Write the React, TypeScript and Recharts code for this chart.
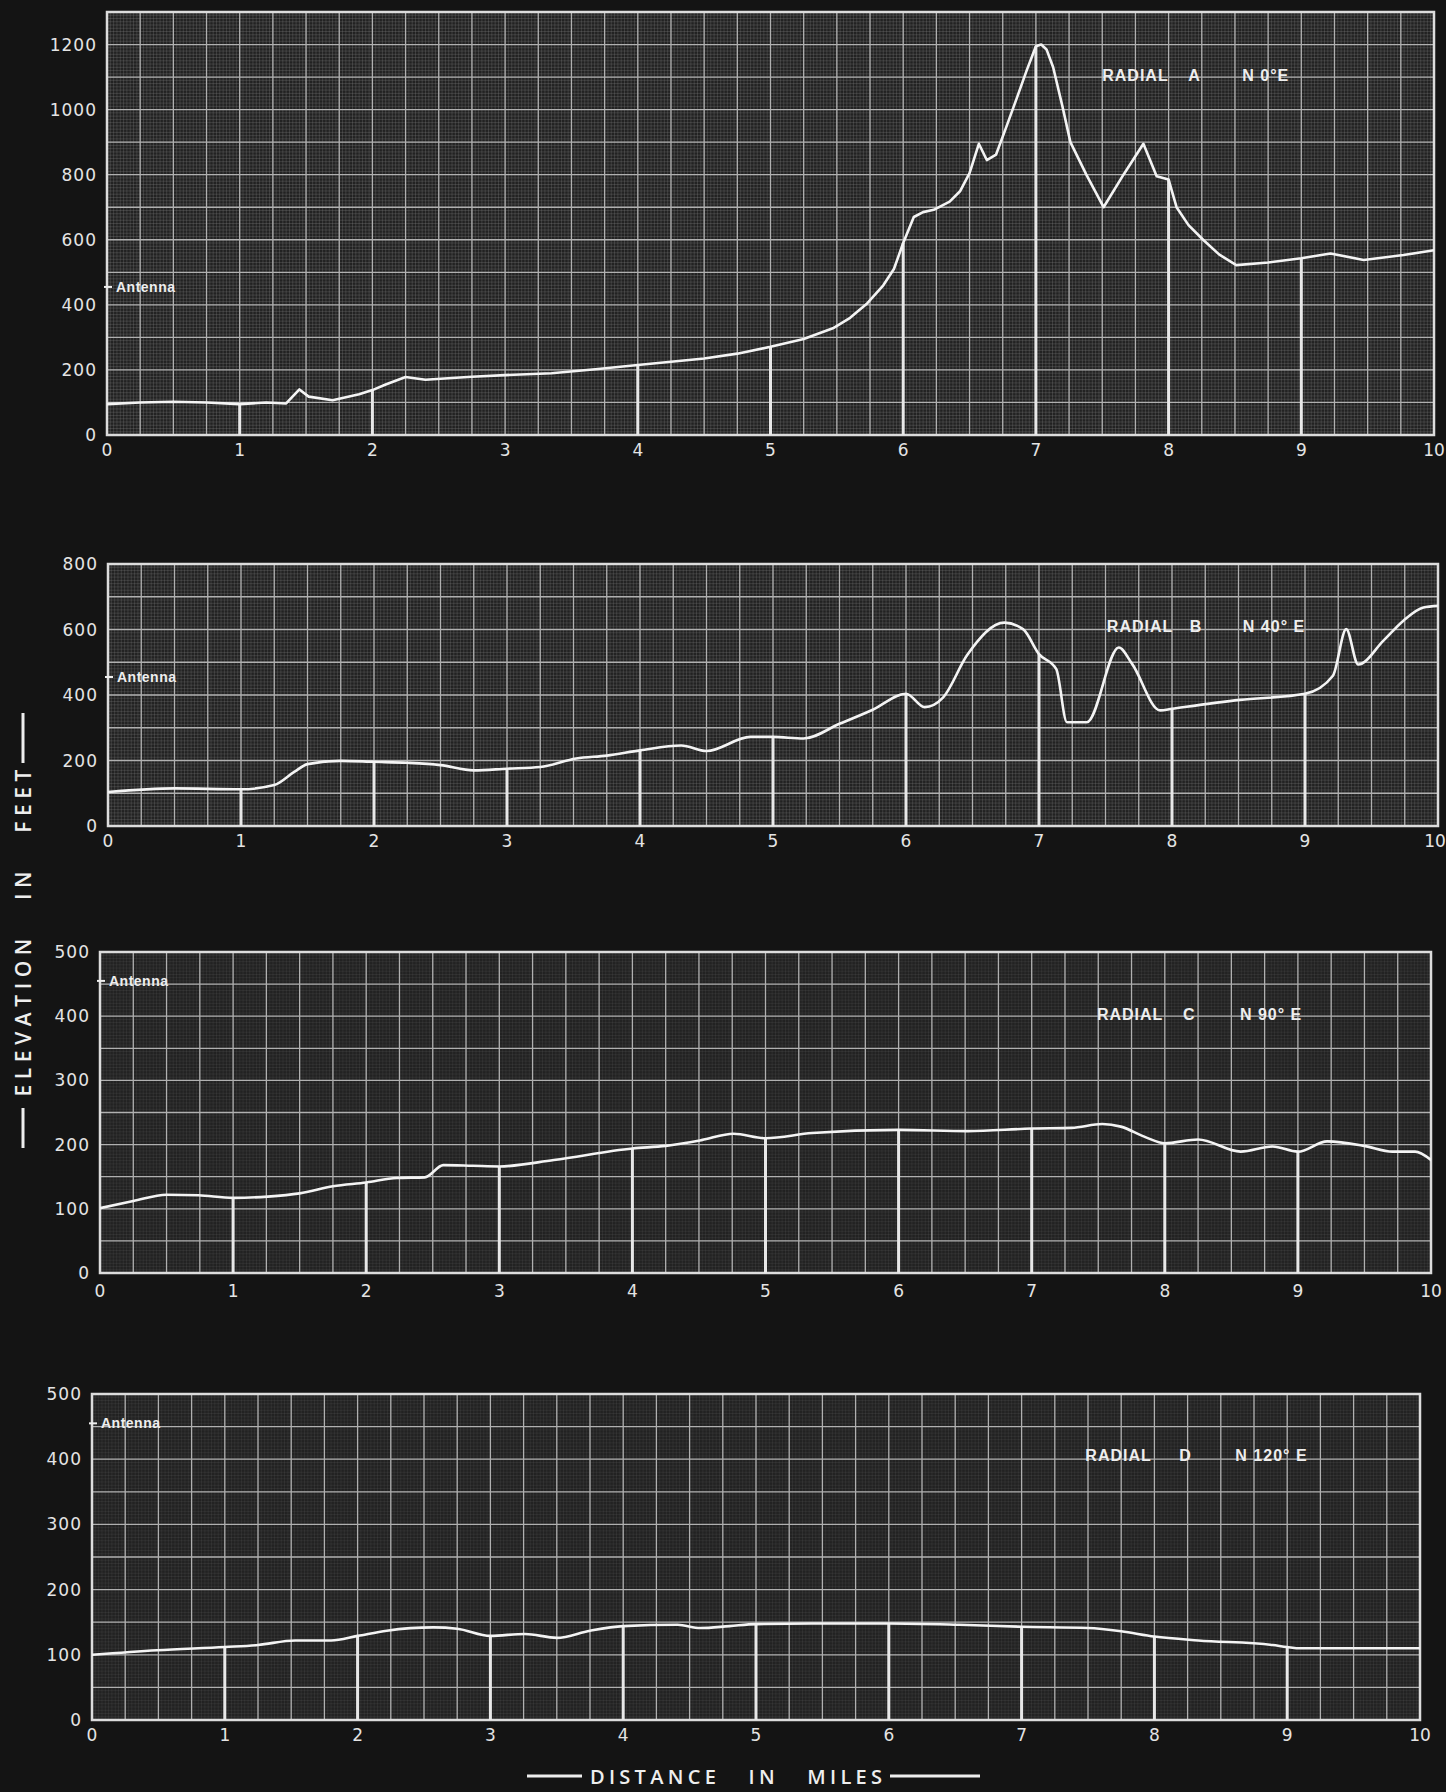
import React from "react";
import {
  LineChart,
  Line,
  XAxis,
  YAxis,
  CartesianGrid,
  ReferenceArea,
  ReferenceDot,
} from "recharts";

// ---------- DATA ----------
const MILE_TICKS = [0, 1, 2, 3, 4, 5, 6, 7, 8, 9, 10];
const A_Y_TICKS = [0, 200, 400, 600, 800, 1000, 1200];
const B_Y_TICKS = [0, 200, 400, 600, 800];
const CD_Y_TICKS = [0, 100, 200, 300, 400, 500];

const ANTENNA_FT = 455;

// [distance in miles, elevation in feet]
const radialA: [number, number][] = [
  [0, 95], [0.25, 100], [0.5, 102], [0.75, 100], [1, 95], [1.2, 100], [1.35, 97],
  [1.45, 140], [1.52, 118], [1.7, 107], [1.9, 125], [2, 138], [2.1, 155], [2.25, 178],
  [2.4, 170], [2.6, 175], [2.75, 179], [3, 184], [3.35, 190], [3.7, 203], [4, 215],
  [4.5, 235], [4.75, 250], [5, 271], [5.25, 295], [5.47, 328], [5.6, 360], [5.73, 405],
  [5.85, 460], [5.93, 510], [6, 590], [6.08, 670], [6.15, 685], [6.23, 692], [6.35, 717],
  [6.43, 750], [6.5, 805], [6.57, 895], [6.63, 845], [6.7, 862], [6.78, 950], [6.86, 1040],
  [6.93, 1120], [7, 1195], [7.04, 1200], [7.08, 1185], [7.13, 1130], [7.2, 1010],
  [7.26, 900], [7.38, 800], [7.51, 700], [7.66, 800], [7.81, 895], [7.91, 795], [8, 785],
  [8.06, 700], [8.15, 645], [8.26, 600], [8.38, 555], [8.51, 522], [8.75, 530], [9, 543],
  [9.22, 558], [9.47, 538], [9.77, 553], [10, 568],
];

const radialB: [number, number][] = [
  [0, 104], [0.5, 115], [1, 112], [1.25, 125], [1.4, 165], [1.5, 189], [1.75, 199],
  [2, 196], [2.25, 193], [2.5, 186], [2.75, 170], [3, 175], [3.25, 180], [3.52, 206],
  [3.75, 215], [4, 231], [4.31, 246], [4.5, 229], [4.83, 272], [5, 272], [5.23, 267],
  [5.5, 312], [5.75, 355], [6, 404], [6.14, 363], [6.28, 393], [6.46, 522], [6.74, 621],
  [6.88, 601], [7, 525], [7.13, 479], [7.21, 317], [7.36, 317], [7.6, 545], [7.7, 495],
  [7.91, 353], [8, 358], [8.51, 385], [9, 404], [9.21, 459], [9.31, 601], [9.4, 493],
  [9.59, 566], [9.74, 627], [9.89, 667], [10, 672],
];

const radialC: [number, number][] = [
  [0, 101], [0.25, 112], [0.5, 122], [0.74, 121], [1, 117], [1.26, 119], [1.5, 124],
  [1.75, 135], [2, 141], [2.23, 148], [2.44, 149], [2.58, 168], [2.8, 167], [3, 166],
  [3.41, 176], [4, 194], [4.25, 198], [4.52, 207], [4.76, 217], [5, 210], [5.35, 218],
  [6, 223], [6.52, 221], [7, 225], [7.3, 226], [7.53, 232], [7.67, 228], [7.85, 212],
  [8, 202], [8.25, 208], [8.57, 189], [8.81, 197], [9, 189], [9.22, 205], [9.5, 198],
  [9.71, 189], [9.88, 189], [10, 176],
];

const radialD: [number, number][] = [
  [0, 100], [0.49, 107], [1, 112], [1.25, 115], [1.53, 122], [1.8, 122], [2, 129],
  [2.22, 137], [2.57, 142], [2.75, 140], [3, 129], [3.26, 132], [3.5, 126], [3.75, 137],
  [4, 144], [4.41, 146], [4.58, 141], [4.8, 144], [5, 147], [5.42, 148], [6, 148],
  [6.53, 146], [7, 143], [7.5, 141], [7.75, 136], [8, 128], [8.33, 122], [8.89, 115],
  [9, 112], [9.1, 110], [9.5, 110], [10, 110],
];

// miles at which a heavy vertical line is drawn from the base up to the profile
const A_DROPS = [1, 2, 4, 5, 6, 7, 8, 9];
const B_DROPS = [1, 2, 3, 4, 5, 6, 7, 8, 9];
const C_DROPS = [1, 2, 3, 4, 5, 6, 7, 8, 9];
const D_DROPS = [1, 2, 3, 4, 5, 6, 7, 8, 9];

// label anchors [mile, feet]
const A_LABEL: [number, number] = [7.5, 1106];
const B_LABEL: [number, number] = [7.51, 608];
const C_LABEL: [number, number] = [7.49, 402];
const D_LABEL: [number, number] = [7.48, 405];

// ---------- helpers ----------
const range = (start: number, end: number, step: number) => {
  const out: number[] = [];
  for (let v = start; v <= end + 1e-9; v += step) out.push(Math.round(v * 1000) / 1000);
  return out;
};

const toPoints = (p: [number, number][]) => p.map(([x, y]) => ({ x, y }));

const dropSegments = (p: [number, number][], miles: number[]) => {
  const out: { x: number; y: number | null }[] = [];
  miles.forEach((m) => {
    const hit = p.find((d) => d[0] === m);
    if (hit) {
      out.push({ x: m, y: 0 }, { x: m, y: hit[1] }, { x: m, y: null });
    }
  });
  return out;
};

const FONT_TICK = "DejaVu Sans, sans-serif";
const W = 1446;
const Y_AXIS_W = 70;
const X_AXIS_H = 30;

const XTick = (p: any) => {
  const label = String(p.payload.value);
  const x = Math.min(p.x, W - 11);
  return (
    <text
      x={x}
      y={p.y}
      dy="0.71em"
      textAnchor="middle"
      fill="#e4e4e4"
      fontSize={17}
      fontFamily={FONT_TICK}
    >
      {label}
    </text>
  );
};

const YTick = (p: any) => (
  <text
    x={p.x}
    y={p.y}
    textAnchor="end"
    dominantBaseline="central"
    fill="#e4e4e4"
    fontSize={17}
    letterSpacing={1}
    fontFamily={FONT_TICK}
  >
    {String(p.payload.value)}
  </text>
);

type PanelProps = {
  plotLeft: number;
  plotRight: number;
  plotTop: number;
  plotBottom: number;
  yMax: number;
  yTicks: number[];
  majorStep: number;
  fineStepY: number;
  fineOpacity: number;
  profile: [number, number][];
  curve: "linear" | "monotoneX";
  drops: number[];
  label: [number, number];
  radial: string;
  bearing: string;
  letterGap: number;
  bearingGap: number;
  xTickMargin: number;
};

function Panel(props: PanelProps) {
  const {
    plotLeft, plotRight, plotTop, plotBottom, yMax, yTicks, majorStep, fineStepY,
    fineOpacity, profile, curve, drops, label, radial, bearing, letterGap, bearingGap,
    xTickMargin,
  } = props;
  const topPad = 12;
  const bottomPad = 6;
  const height = plotBottom - plotTop + topPad + X_AXIS_H + bottomPad;
  const margin = {
    top: topPad,
    bottom: bottomPad,
    left: plotLeft - Y_AXIS_W,
    right: W - plotRight,
  };
  const profilePts = toPoints(profile);
  const dropPts = dropSegments(profile, drops);

  return (
    <div style={{ position: "absolute", left: 0, top: plotTop - topPad }}>
      <LineChart width={W} height={height} margin={margin}>
        <CartesianGrid
          fill="#222222"
          stroke="#8a8a8a"
          strokeOpacity={fineOpacity}
          strokeWidth={1}
          horizontalValues={range(0, yMax, fineStepY)}
          verticalValues={range(0, 10, 0.025)}
        />
        <CartesianGrid
          stroke="#b0b0b0"
          strokeWidth={1.3}
          horizontalValues={range(0, yMax, majorStep)}
          verticalValues={range(0, 10, 0.25)}
        />
        <XAxis
          type="number"
          dataKey="x"
          domain={[0, 10]}
          ticks={MILE_TICKS}
          axisLine={false}
          tickLine={false}
          tickSize={0}
          tickMargin={xTickMargin}
          height={X_AXIS_H}
          tick={<XTick />}
          interval={0}
          allowDataOverflow
        />
        <YAxis
          type="number"
          dataKey="y"
          domain={[0, yMax]}
          ticks={yTicks}
          axisLine={false}
          tickLine={false}
          tickSize={0}
          tickMargin={10}
          width={Y_AXIS_W}
          tick={<YTick />}
          interval={0}
          allowDataOverflow
        />
        <ReferenceArea
          x1={0}
          x2={10}
          y1={0}
          y2={yMax}
          fill="none"
          stroke="#dcdcdc"
          strokeWidth={2.5}
          ifOverflow="visible"
        />
        <Line
          data={dropPts}
          dataKey="y"
          type="linear"
          stroke="#e8e8e8"
          strokeWidth={3}
          dot={false}
          activeDot={false}
          connectNulls={false}
          isAnimationActive={false}
        />
        <Line
          data={profilePts}
          dataKey="y"
          type={curve}
          stroke="#f4f4f4"
          strokeWidth={2.6}
          strokeLinejoin="round"
          strokeLinecap="round"
          dot={false}
          activeDot={false}
          isAnimationActive={false}
        />
        <ReferenceDot
          x={0}
          y={ANTENNA_FT}
          r={1}
          ifOverflow="visible"
          shape={(p: any) => (
            <g>
              <line x1={p.cx - 3} x2={p.cx + 5} y1={p.cy} y2={p.cy} stroke="#eeeeee" strokeWidth={2} />
              <text
                x={p.cx + 9}
                y={p.cy}
                dominantBaseline="central"
                fill="#eeeeee"
                fontSize={14}
                fontWeight={700}
                fontFamily="Liberation Sans, Arial, sans-serif"
                letterSpacing={0.5}
              >
                Antenna
              </text>
            </g>
          )}
        />
        <ReferenceDot
          x={label[0]}
          y={label[1]}
          r={1}
          ifOverflow="visible"
          shape={(p: any) => (
            <g
              fill="#eeeeee"
              fontSize={16}
              fontWeight={700}
              fontFamily="Liberation Sans, Arial, sans-serif"
              letterSpacing={1}
            >
              <text x={p.cx} y={p.cy} dominantBaseline="central">RADIAL</text>
              <text x={p.cx + letterGap} y={p.cy} dominantBaseline="central">{radial}</text>
              <text x={p.cx + bearingGap} y={p.cy} dominantBaseline="central">{bearing}</text>
            </g>
          )}
        />
      </LineChart>
    </div>
  );
}

export default function App() {
  return (
    <div
      style={{
        position: "absolute",
        left: 0,
        top: 0,
        width: 1446,
        height: 1792,
        background: "#141414",
        overflow: "hidden",
      }}
    >
      <Panel
        plotLeft={107}
        plotRight={1434}
        plotTop={12}
        plotBottom={435}
        yMax={1300}
        yTicks={A_Y_TICKS}
        majorStep={100}
        fineStepY={10}
        fineOpacity={0.28}
        profile={radialA}
        curve="linear"
        drops={A_DROPS}
        label={A_LABEL}
        radial="A"
        bearing="N 0°E"
        letterGap={86}
        bearingGap={140}
        xTickMargin={9}
      />
      <Panel
        plotLeft={108}
        plotRight={1438}
        plotTop={564}
        plotBottom={826}
        yMax={800}
        yTicks={B_Y_TICKS}
        majorStep={100}
        fineStepY={10}
        fineOpacity={0.25}
        profile={radialB}
        curve="monotoneX"
        drops={B_DROPS}
        label={B_LABEL}
        radial="B"
        bearing="N 40° E"
        letterGap={83}
        bearingGap={136}
        xTickMargin={9}
      />
      <Panel
        plotLeft={100}
        plotRight={1431}
        plotTop={952}
        plotBottom={1273}
        yMax={500}
        yTicks={CD_Y_TICKS}
        majorStep={50}
        fineStepY={5}
        fineOpacity={0.12}
        profile={radialC}
        curve="monotoneX"
        drops={C_DROPS}
        label={C_LABEL}
        radial="C"
        bearing="N 90° E"
        letterGap={86}
        bearingGap={143}
        xTickMargin={12}
      />
      <Panel
        plotLeft={92}
        plotRight={1420}
        plotTop={1394}
        plotBottom={1720}
        yMax={500}
        yTicks={CD_Y_TICKS}
        majorStep={50}
        fineStepY={5}
        fineOpacity={0.12}
        profile={radialD}
        curve="monotoneX"
        drops={D_DROPS}
        label={D_LABEL}
        radial="D"
        bearing="N 120° E"
        letterGap={94}
        bearingGap={150}
        xTickMargin={9}
      />
      <svg
        width={1446}
        height={1792}
        style={{ position: "absolute", left: 0, top: 0, pointerEvents: "none" }}
      >
        <g transform="translate(23, 933) rotate(-90)">
          <line x1={-215} x2={-175} y1={0} y2={0} stroke="#eeeeee" strokeWidth={3} />
          <line x1={170} x2={220} y1={0} y2={0} stroke="#eeeeee" strokeWidth={3} />
          <text
            x={0}
            y={0}
            textAnchor="middle"
            dominantBaseline="central"
            fill="#eeeeee"
            fontSize={21}
            fontWeight={600}
            fontFamily="Open Sans, DejaVu Sans, sans-serif"
            textLength={327}
            lengthAdjust="spacing"
            style={{ whiteSpace: "pre" }}
          >
            {"ELEVATION   IN   FEET"}
          </text>
        </g>
        <line x1={527} x2={582} y1={1776} y2={1776} stroke="#eeeeee" strokeWidth={3} />
        <line x1={890} x2={980} y1={1776} y2={1776} stroke="#eeeeee" strokeWidth={3} />
        <text
          x={736}
          y={1776}
          textAnchor="middle"
          dominantBaseline="central"
          fill="#eeeeee"
          fontSize={20}
          fontWeight={600}
          fontFamily="Open Sans, DejaVu Sans, sans-serif"
          textLength={292}
          lengthAdjust="spacing"
          style={{ whiteSpace: "pre" }}
        >
          {"DISTANCE   IN   MILES"}
        </text>
      </svg>
    </div>
  );
}
